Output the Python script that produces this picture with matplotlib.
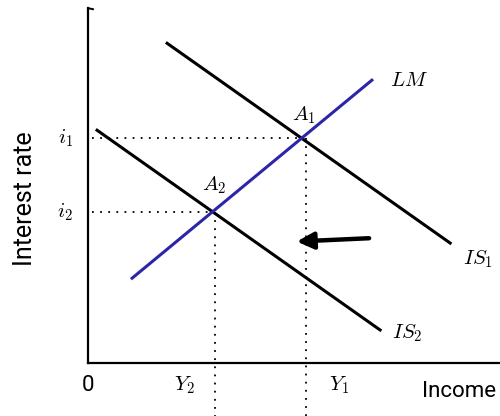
import numpy as np
import matplotlib
matplotlib.use('Agg')
import matplotlib.pyplot as plt

plt.rcParams['mathtext.fontset'] = 'cm'

# Curves (income, interest rate) endpoints
is1_x = [1.92, 8.79]
is1_y = [9.01, 3.38]
is2_x = [0.22, 7.09]
is2_y = [6.56, 0.93]
lm_x = [1.07, 6.89]
lm_y = [2.39, 7.97]

# Equilibrium levels
y_levels = [5.3, 3.08]     # Y1, Y2
i_levels = [6.34, 4.25]    # i1, i2
a_x = [5.18, 3.02]         # A1, A2
arrow_from = (6.89, 3.52)
arrow_to = (5.0, 3.42)

fig = plt.figure(figsize=(5, 4.16), dpi=100)
ax = fig.add_axes([0.176, 0.1274, 0.824, 0.853])
ax.set_xlim(0, 10)
ax.set_ylim(0, 10)
for s in ['top', 'right']:
    ax.spines[s].set_visible(False)
ax.spines['left'].set_linewidth(1.6)
ax.spines['bottom'].set_linewidth(1.6)
ax.set_xticks([])
ax.set_yticks([])

# small hook at top of y axis
ax.plot([0, 0.12], [10, 9.97], color='black', lw=1.4, clip_on=False)

ax.plot(is1_x, is1_y, color='black', lw=2.2)
ax.plot(is2_x, is2_y, color='black', lw=2.2)
ax.plot(lm_x, lm_y, color='#2c25a8', lw=2.2)

# dotted guides
for xa, il in zip(a_x, i_levels):
    ax.plot([0.1, xa], [il, il], color='black', lw=1.3, ls=(0, (1, 3.5)))
for yl, il in zip(y_levels, i_levels):
    ax.plot([yl, yl], [il, -1.5], color='black', lw=1.3, ls=(0, (1, 3.5)), clip_on=False)

ax.annotate('', xy=arrow_to, xytext=arrow_from,
            arrowprops=dict(arrowstyle='-|>,head_length=1.0,head_width=0.5',
                            color='black', lw=3.2))

fs = 15
ax.text(-0.55, i_levels[0], r'$i_1$', fontsize=fs, ha='center', va='center')
ax.text(-0.55, i_levels[1], r'$i_2$', fontsize=fs, ha='center', va='center')
ax.text(a_x[0] + 0.05, i_levels[0] + 0.35, r'$A_1$', fontsize=fs, ha='center', va='bottom')
ax.text(a_x[1] + 0.05, i_levels[1] + 0.45, r'$A_2$', fontsize=fs, ha='center', va='bottom')
ax.text(lm_x[1] + 0.45, lm_y[1], r'$LM$', fontsize=fs, ha='left', va='center')
ax.text(is1_x[1] + 0.3, is1_y[1] - 0.45, r'$IS_1$', fontsize=fs, ha='left', va='center')
ax.text(is2_x[1] + 0.3, is2_y[1] - 0.1, r'$IS_2$', fontsize=fs, ha='left', va='center')
ax.text(y_levels[1] - 0.75, -0.62, r'$Y_2$', fontsize=fs, ha='center', va='center')
ax.text(y_levels[0] + 0.8, -0.62, r'$Y_1$', fontsize=fs, ha='center', va='center')

sans = ['Roboto', 'DejaVu Sans']
ax.text(0.0, -0.62, '0', fontsize=16, ha='center', va='center', family=sans)
ax.text(9.0, -0.8, 'Income', fontsize=16, ha='center', va='center', family=sans)
fig.text(0.05, 0.522, 'Interest rate', fontsize=18, rotation=90,
         ha='center', va='center', family=sans)

fig.savefig('out.png', dpi=100)
